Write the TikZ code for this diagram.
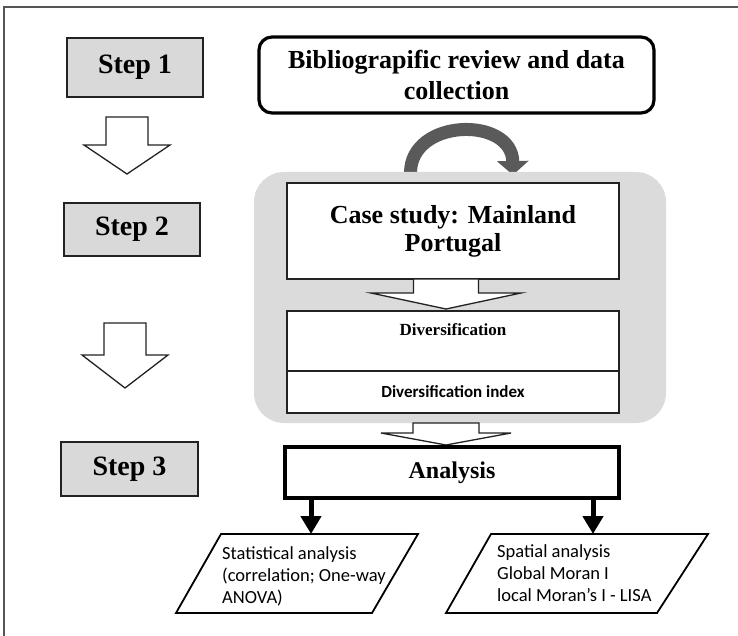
\documentclass[tikz,border=0pt]{standalone}
\usepackage{fontspec}
\setmainfont{Liberation Serif}
\newfontfamily\calib{Carlito}
\usetikzlibrary{arrows.meta}
\definecolor{boxgray}{HTML}{D9D9D9}
\definecolor{bggray}{HTML}{DBDBDB}
\definecolor{curvegray}{HTML}{5A5A5A}
\definecolor{framegray}{HTML}{555555}
\definecolor{edgec}{HTML}{222222}
\tikzset{
  stepbox/.style={draw=edgec, fill=boxgray, line width=1.5pt, minimum width=136pt, inner sep=0pt,
    font=\bfseries\fontsize{28}{30}\selectfont},
  whitebox/.style={draw=edgec, fill=white, line width=1.8pt, inner sep=0pt, minimum width=332pt},
  thickbox/.style={draw=black, fill=white, line width=3.5pt, inner sep=0pt},
  blockar/.style={draw=edgec, fill=white, line width=1.3pt, line join=miter},
  blackarrow/.style={draw=black, line width=5pt, -{Triangle[width=20pt,length=18pt]}},
  paraline/.style={draw=black, line width=1.8pt, line join=miter, fill=white},
  paratext/.style={anchor=north west, inner sep=0pt, align=left, font=\calib\fontsize{18.5}{22}\selectfont}
}
\newcommand\blockarrow[6]{\draw[blockar] ({#1-#5},#2) -- ({#1+#5},#2) -- ({#1+#5},#3) -- ({#1+#6},#3) -- (#1,#4) -- ({#1-#6},#3) -- ({#1-#5},#3) -- cycle;}
\begin{document}
\begin{tikzpicture}[x=1pt,y=-1pt]
\useasboundingbox (0,0) rectangle (738,636);
% frame
\draw[framegray, line width=1.5pt] (4,636) -- (4,7) -- (738,7);

% step boxes
\node[stepbox, minimum height=59pt] (step1) at (135,67.5) {Step 1};
\node[stepbox, minimum height=53pt] (step2) at (132,229.5) {Step 2};
\node[stepbox, minimum height=54pt, minimum width=137pt] (step3) at (129.5,469) {Step 3};

% left block arrows
\blockarrow{127}{117}{145}{174}{21}{43}
\blockarrow{125}{323}{355}{388}{21}{43}

% bibliographic review
\node[draw=black, fill=white, line width=3.2pt, rounded corners=13pt, minimum width=395pt, minimum height=76pt,
  inner sep=0pt, align=center, font=\bfseries\fontsize{26}{31}\selectfont] (biblio) at (456.5,75)
  {Bibliograpific review and data\\collection};

% curved arrow
\draw[curvegray, line width=13pt, -{Triangle[width=31pt,length=14pt]}]
  (410.5,173) .. controls (410.5,118) and (512,116) .. (513,175);

% gray background
\node[fill=bggray, rounded corners=30pt, minimum width=412pt, minimum height=251pt, inner sep=0pt] (bg) at (460,297.5) {};

% case study
\node[whitebox, minimum height=96pt, align=center, font=\bfseries\fontsize{26}{28}\selectfont] (case) at (453,231)
  {Case study: Mainland\\Portugal};

% diversification
\node[whitebox, minimum height=60pt,
  label={[anchor=north, inner sep=0pt, yshift=-13pt, font=\bfseries\fontsize{17}{19}\selectfont]north:Diversification}]
  (div) at (453,341) {};
\node[whitebox, minimum height=42pt, font=\calib\bfseries\fontsize{17}{19}\selectfont] (divi) at (453,392)
  {Diversification index};

% arrow case -> diversification
\blockarrow{446}{279}{293}{309}{32.5}{75}

% arrow gray -> analysis
\blockarrow{446}{423}{433}{445}{33}{65}

% analysis
\node[thickbox, minimum width=334pt, minimum height=51pt, font=\bfseries\fontsize{24}{26}\selectfont] (analysis) at (452,472.5)
  {Analysis};

% parallelograms
\draw[paraline] (221,534) coordinate (p1tl) -- (418,534) coordinate (p1tr) -- (372,613) coordinate (p1br) -- (176,613) coordinate (p1bl) -- cycle;
\draw[paraline] (491,534) coordinate (p2tl) -- (708,534) coordinate (p2tr) -- (657,613) coordinate (p2br) -- (446,613) coordinate (p2bl) -- cycle;
\coordinate (p1top) at (311,534);
\coordinate (p2top) at (593,534);
\node[paratext] (stat) at (222,546) {Statistical analysis\\(correlation; One-way\\ANOVA)};
\node[paratext] (spat) at (497,544) {Spatial analysis\\Global Moran I\\local Moran’s I - LISA};

% black arrows
\draw[blackarrow] (analysis.south -| p1top) -- (p1top);
\draw[blackarrow] (analysis.south -| p2top) -- (p2top);
\end{tikzpicture}
\end{document}
